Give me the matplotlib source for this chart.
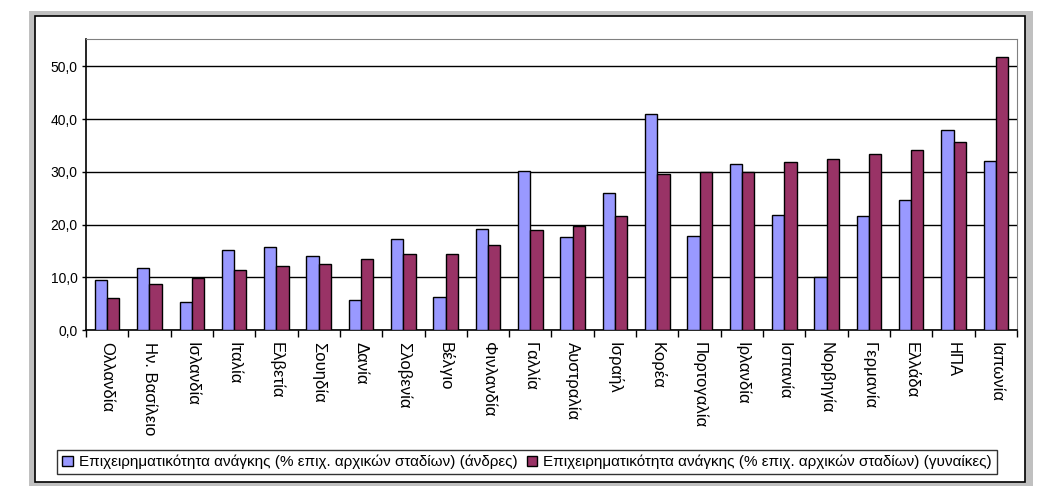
import matplotlib.pyplot as plt
import numpy as np
import matplotlib.patches as mpatches

plt.rcParams["font.family"] = ["Liberation Sans", "DejaVu Sans"]

# Country labels (Greek), in chart order
countries = [
    "Ολλανδία", "Ην. Βασίλειο", "Ισλανδία", "Ιταλία", "Ελβετία", "Σουηδία",
    "Δανία", "Σλοβενία", "Βέλγιο", "Φινλανδία", "Γαλλία", "Αυστραλία",
    "Ισραήλ", "Κορέα", "Πορτογαλία", "Ιρλανδία", "Ισπανία", "Νορβηγία",
    "Γερμανία", "Ελλάδα", "ΗΠΑ", "Ιαπωνία",
]

# Necessity entrepreneurship (% of early-stage), men
men = [9.4, 11.7, 5.4, 15.1, 15.7, 14.0, 5.6, 17.2, 6.2, 19.1, 30.1, 17.6,
       25.9, 40.9, 17.8, 31.4, 21.9, 10.0, 21.7, 24.6, 37.9, 32.0]

# Necessity entrepreneurship (% of early-stage), women
women = [6.0, 8.7, 9.8, 11.3, 12.1, 12.6, 13.4, 14.4, 14.5, 16.2, 18.9, 19.7,
         21.6, 29.5, 29.9, 29.9, 31.8, 32.4, 33.3, 34.1, 35.6, 51.7]

label_men = "Επιχειρηματικότητα ανάγκης (% επιχ. αρχικών σταδίων) (άνδρες)"
label_women = "Επιχειρηματικότητα ανάγκης (% επιχ. αρχικών σταδίων) (γυναίκες)"

yticks = [0, 10, 20, 30, 40, 50]
ytick_labels = ["0,0", "10,0", "20,0", "30,0", "40,0", "50,0"]

fig = plt.figure(figsize=(10.45, 4.96), dpi=100)

# outer chart frame: gray thick border with thin black inner line
W, H = 1045, 496
fig.patches.append(mpatches.Rectangle(
    (29 / W, 1 - 486 / H), (1033 - 29) / W, (486 - 11) / H,
    transform=fig.transFigure, facecolor="#c0c0c0", edgecolor="none", zorder=0))
fig.patches.append(mpatches.Rectangle(
    (35 / W, 1 - 482 / H), (1025 - 35) / W, (482 - 16) / H,
    transform=fig.transFigure, facecolor="white", edgecolor="black",
    linewidth=1.2, zorder=0.5))

ax = fig.add_axes([86 / W, 1 - 330 / H, (1017 - 86) / W, (330 - 39) / H])
ax.set_zorder(1)

x = np.arange(len(countries))
bw = 0.29
ax.bar(x - bw / 2, men, width=bw, color="#9999ff", edgecolor="black",
       linewidth=1, label=label_men, zorder=3)
ax.bar(x + bw / 2, women, width=bw, color="#993366", edgecolor="black",
       linewidth=1, label=label_women, zorder=3)

ax.set_xlim(-0.5, len(countries) - 0.5)
ax.set_ylim(0, 55.2)

ax.set_yticks(yticks)
ax.set_yticklabels(ytick_labels, fontsize=10)
ax.yaxis.grid(True, color="black", linewidth=1)
ax.set_axisbelow(True)
ax.tick_params(axis="y", length=3, width=1, pad=3)

ax.set_xticks(x)
ax.set_xticklabels(countries, rotation=270, fontsize=12, va="top", ha="center")
ax.set_xticks(np.arange(len(countries) + 1) - 0.5, minor=True)
ax.tick_params(axis="x", which="major", length=0, pad=9)
ax.tick_params(axis="x", which="minor", length=5, width=1, direction="out")

for side in ["top", "right"]:
    ax.spines[side].set_color("#808080")
for side in ["left", "bottom"]:
    ax.spines[side].set_color("black")
    ax.spines[side].set_linewidth(1.2)

leg = fig.legend(loc="center", bbox_to_anchor=(527 / W, 1 - 462 / H), ncol=2,
                 fontsize=11, frameon=True, fancybox=False, edgecolor="black",
                 handlelength=0.7, handleheight=0.7, handletextpad=0.4,
                 columnspacing=0.6, borderpad=0.3, borderaxespad=0)
leg.get_frame().set_linewidth(1)

fig.savefig("out.png", dpi=100)
